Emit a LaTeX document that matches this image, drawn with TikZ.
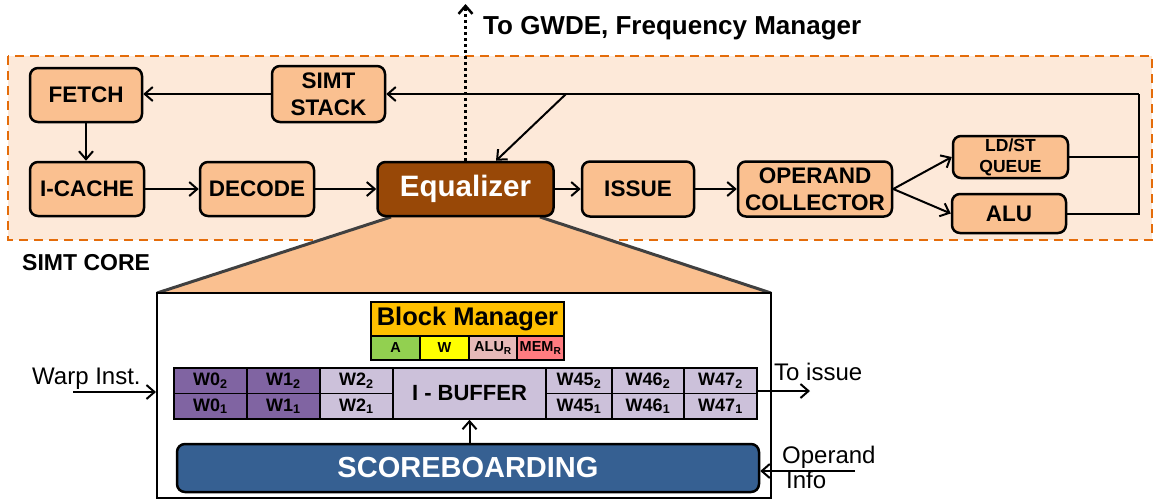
\documentclass[tikz,border=0pt]{standalone}
\usepackage{fontspec}
\setmainfont{Liberation Sans}
\usetikzlibrary{arrows.meta}
\definecolor{coreback}{HTML}{FDE9D9}
\definecolor{coreline}{HTML}{E46C0A}
\definecolor{stagefill}{HTML}{FAC090}
\definecolor{eqfill}{HTML}{984807}
\definecolor{warpdark}{HTML}{8064A2}
\definecolor{warplight}{HTML}{CCC1DA}
\definecolor{bmhead}{HTML}{FFC000}
\definecolor{bmA}{HTML}{92D050}
\definecolor{bmW}{HTML}{FFFF00}
\definecolor{bmalu}{HTML}{E6B9B8}
\definecolor{bmmem}{HTML}{FF7C80}
\definecolor{sbfill}{HTML}{366092}

\begin{document}
\begin{tikzpicture}[x=1pt,y=-1pt,
	stage/.style={draw, line width=2.5pt, rounded corners=8pt, fill=stagefill, inner sep=0pt, align=center, font=\fontsize{22.5}{27}\selectfont\bfseries},
	eqstage/.style={stage, fill=eqfill, text=white, font=\fontsize{29.5}{30}\selectfont\bfseries},
	cell/.style={draw, line width=1.5pt, fill=warplight, minimum width=73pt, minimum height=25.5pt, inner sep=0pt, font=\fontsize{18}{18}\selectfont\bfseries},
	bmcell/.style={draw, line width=1.5pt, minimum height=24pt, inner sep=0pt, font=\fontsize{14.5}{15}\selectfont\bfseries},
	lbl/.style={inner sep=0pt, anchor=west, align=left, font=\fontsize{24}{25}\selectfont},
	arr/.style={line width=2pt, -{Straight Barb[length=8pt,width=14pt]}}]
		%%%%% START %%%%%
		\useasboundingbox (0,0) rectangle (1157,499);
		
		\draw[line width=2.5pt, color=coreline, fill=coreback, dash pattern=on 9pt off 6pt] (8,56) rectangle (1152,240);
		
		%% zoom of the equalizer
		\fill[stagefill] (391,217) -- (540,217) -- (771,293) -- (157,293) -- cycle;
		\draw[line width=3pt, color=black!75] (391,217) -- (157,293);
		\draw[line width=3pt, color=black!75] (540,217) -- (771,293);
		\node[draw, line width=2pt, fill=white, minimum width=614pt, minimum height=205pt, inner sep=0pt] (eqbox) at (464,395.5) {};
		
		%% pipeline
		\node[stage, minimum width=112pt, minimum height=54pt] (fetch) at (86,95) {FETCH};
		\node[stage, minimum width=113pt, minimum height=56pt] (stack) at (328.5,94) {SIMT\\STACK};
		\node[stage, minimum width=114pt, minimum height=54pt] (icache) at (87,189) {I-CACHE};
		\node[stage, minimum width=114pt, minimum height=54pt] (decode) at (257,189) {DECODE};
		\node[eqstage, minimum width=176pt, minimum height=54pt] (eq) at (465.5,189) {Equalizer};
		\node[stage, minimum width=112pt, minimum height=55pt] (issue) at (638,189) {ISSUE};
		\node[stage, minimum width=154pt, minimum height=55pt] (opcoll) at (815,189) {OPERAND\\COLLECTOR};
		\node[stage, minimum width=115pt, minimum height=42pt, font=\fontsize{17.5}{21}\selectfont\bfseries] (ldst) at (1010.5,157) {LD/ST\\QUEUE};
		\node[stage, minimum width=114pt, minimum height=39pt] (alu) at (1009,213.5) {ALU};
		
		\coordinate (rtop) at (1139,94);
		\coordinate (tap) at (566,94);
		\coordinate (gwde) at (465.5,4);
		
		\draw[arr] (fetch.south) -- (fetch.south |- icache.north);
		\draw[arr] (icache) -- (decode);
		\draw[arr] (decode) -- (eq);
		\draw[arr] (eq) -- (issue);
		\draw[arr] (issue) -- (opcoll);
		\draw[arr] (opcoll.east) -- (ldst.west);
		\draw[arr] (opcoll.east) -- (alu.west);
		\draw[line width=2pt] (ldst.east) -- (ldst.east -| rtop);
		\draw[line width=2pt] (alu.east) -- (alu.east -| rtop) -- (rtop);
		\draw[arr] (rtop) -- (stack.east);
		\draw[arr] (stack) -- (stack -| fetch.east);
		\draw[arr] (tap) -- ([xshift=30.5pt]eq.north);
		\draw[arr, dash pattern=on 3pt off 3pt, line width=2.5pt] (eq.north) -- (gwde);
		
		\node[lbl, font=\fontsize{26}{28}\selectfont\bfseries] (gwdetext) at (483,28) {To GWDE, Frequency Manager};
		\node[lbl, font=\fontsize{23}{26}\selectfont\bfseries] (coretext) at (22,263) {SIMT CORE};
		
		%% block manager
		\node[bmcell, fill=bmhead, minimum width=193pt, minimum height=34pt, font=\fontsize{25.5}{26}\selectfont\bfseries] (bm) at (467.5,319) {Block Manager};
		\node[bmcell, fill=bmA, minimum width=49pt] (bmA) at (395.5,348) {A};
		\node[bmcell, fill=bmW, minimum width=49pt] (bmW) at (444.5,348) {W};
		\node[bmcell, fill=bmalu, minimum width=48pt] (bmalu) at (493,348) {ALU\textsubscript{R}};
		\node[bmcell, fill=bmmem, minimum width=47pt] (bmmem) at (540.5,348) {MEM\textsubscript{R}};
		
		%% instruction buffer
		\node[cell, fill=warpdark] (w0a) at (210.5,380.75) {W0\textsubscript{2}};
		\node[cell, fill=warpdark] (w0b) at (210.5,406.25) {W0\textsubscript{1}};
		\node[cell, fill=warpdark] (w1a) at (283.5,380.75) {W1\textsubscript{2}};
		\node[cell, fill=warpdark] (w1b) at (283.5,406.25) {W1\textsubscript{1}};
		\node[cell] (w2a) at (356.5,380.75) {W2\textsubscript{2}};
		\node[cell] (w2b) at (356.5,406.25) {W2\textsubscript{1}};
		\node[cell, minimum width=153pt, minimum height=51pt, font=\fontsize{22}{22}\selectfont\bfseries] (ibuf) at (469.5,393.5) {I - BUFFER};
		\node[cell, minimum width=66pt] (w45a) at (579,380.75) {W45\textsubscript{2}};
		\node[cell, minimum width=66pt] (w45b) at (579,406.25) {W45\textsubscript{1}};
		\node[cell, minimum width=72pt] (w46a) at (648,380.75) {W46\textsubscript{2}};
		\node[cell, minimum width=72pt] (w46b) at (648,406.25) {W46\textsubscript{1}};
		\node[cell] (w47a) at (720.5,380.75) {W47\textsubscript{2}};
		\node[cell] (w47b) at (720.5,406.25) {W47\textsubscript{1}};
		
		\node[draw, line width=2.5pt, rounded corners=8pt, fill=sbfill, text=white, minimum width=582pt, minimum height=48pt, inner sep=0pt, font=\fontsize{29}{29}\selectfont\bfseries] (sb) at (468,468) {SCOREBOARDING};
		
		\draw[arr] (ibuf.south |- sb.north) -- (ibuf.south);
		
		\node[lbl] (warptext) at (32,379) {Warp Inst.};
		\coordinate (warpin) at (73,392);
		\draw[arr] (warpin) -- (warpin -| eqbox.west);
		
		\node[lbl] (issuetext) at (774,372) {To issue};
		\coordinate (toissue) at (810,391);
		\draw[arr] (toissue -| w47a.east) -- (toissue);
		
		\node[lbl] (optext) at (782,467) {Operand\\\hspace*{4pt}Info};
		\coordinate (opin) at (855,471);
		\draw[arr] (opin) -- (opin -| sb.east);
		%%%%% END %%%%%
\end{tikzpicture}
\end{document}
